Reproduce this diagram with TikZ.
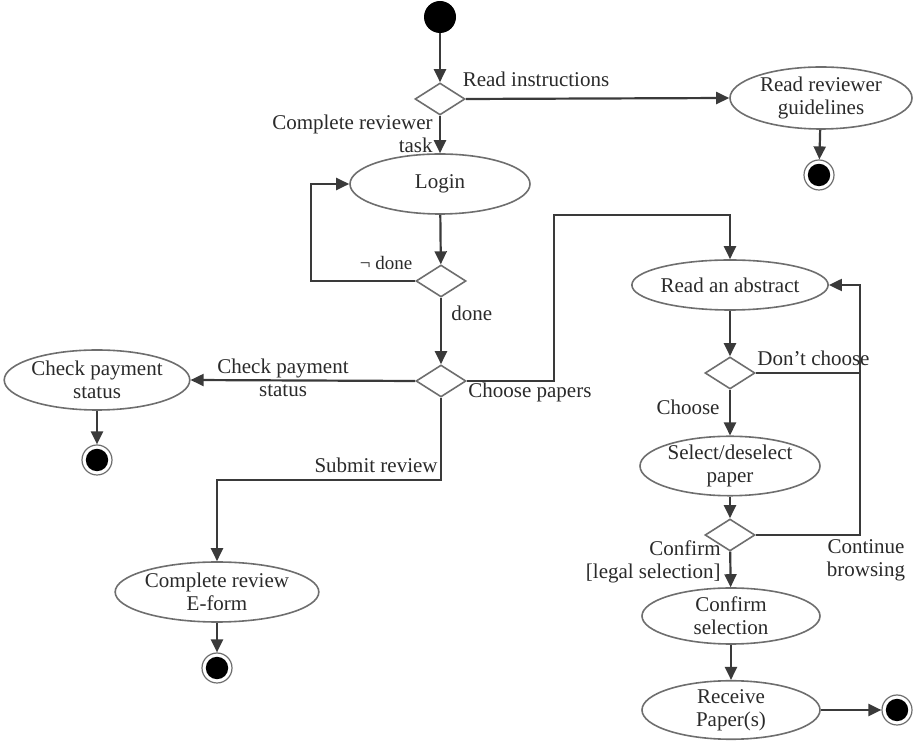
\documentclass[tikz,border=0pt]{standalone}
\usepackage{fontspec}
\setmainfont{Liberation Serif}
\usetikzlibrary{shapes.geometric,arrows.meta}
\definecolor{ln}{HTML}{3A3A3A}
\definecolor{ol}{HTML}{6E6E6E}
\definecolor{tx}{HTML}{2A2A2A}
\begin{document}
\begin{tikzpicture}[x=0.5pt,y=-0.5pt,
  font=\fontsize{10.5}{11.5}\selectfont,
  act/.style={ellipse,draw=ol,line width=0.8pt,inner sep=0pt,align=center,text=tx},
  dec/.style={diamond,draw=ol,line width=0.8pt,inner sep=0pt,minimum width=25pt,minimum height=16pt},
  flow/.style={draw=ln,line width=1.1pt,-{Triangle[length=6.5pt,width=6pt]}},
  plain/.style={draw=ln,line width=1.1pt},
  lbl/.style={inner sep=0pt,text=tx,align=center},
  startnode/.style={circle,fill=black,minimum size=16pt,inner sep=0pt},
  fin/.style={circle,draw=ol,line width=0.6pt,minimum size=15pt,inner sep=0pt,
    path picture={\fill[black] (path picture bounding box.center) circle (5.6pt);}}]
\useasboundingbox (0,0) rectangle (916,747);

% nodes
\node[startnode] (start) at (440,17) {};
\node[dec] (d1) at (440,99) {};
\node[act,minimum width=91pt,minimum height=31pt] (guide) at (821,98) {Read reviewer\\guidelines};
\node[fin] (fin1) at (819,175) {};
\node[act,minimum width=90pt,minimum height=30pt] (login) at (440,184) {Login};
\node[dec] (d2) at (441,281) {};
\node[dec] (d3) at (441,381) {};
\node[act,minimum width=90pt,minimum height=30pt] (pay) at (97,380) {Check payment\\status};
\node[fin] (fin2) at (97,460) {};
\node[act,minimum width=90pt,minimum height=30pt] (eform) at (217,592) {Complete review\\E-form};
\node[fin] (fin3) at (217,668) {};
\node[act,minimum width=91pt,minimum height=25pt] (abs) at (730,285) {Read an abstract};
\node[dec] (d4) at (730,373) {};
\node[act,minimum width=90pt,minimum height=29pt] (sel) at (730,466) {Select/deselect\\paper};
\node[dec] (d5) at (730,535) {};
\node[act,minimum width=89pt,minimum height=28pt] (conf) at (731,616) {Confirm\\selection};
\node[act,minimum width=89pt,minimum height=27pt] (recv) at (731,710) {Receive\\Paper(s)};
\node[fin] (fin4) at (897,710) {};

% bend points
\coordinate (lp) at (311,184);
\coordinate (c1) at (554,215);
\coordinate (c2) at (217,480);
\coordinate (c3) at (860,373);
\coordinate (c4) at (860,285);

% connectors
\draw[flow] (start) -- (d1);
\draw[flow] (d1.east) -- (guide.west);
\draw[flow] (guide) -- (fin1);
\draw[flow] (d1) -- (login);
\draw[flow] (login) -- (d2);
\draw[flow] (d2.west) -| (lp) -- (login.west);
\draw[flow] (d2) -- (d3);
\draw[flow] (d3.west) -- (pay.east);
\draw[flow] (pay) -- (fin2);
\draw[flow] (d3.east) -| (c1) -| (abs.north);
\draw[flow] (d3.south) |- (c2) -- (eform.north);
\draw[flow] (eform) -- (fin3);
\draw[flow] (abs) -- (d4);
\draw[plain] (d4.east) -- (c3);
\draw[flow] (d5.east) -| (c4) -- (abs.east);
\draw[flow] (d4) -- (sel);
\draw[flow] (sel) -- (d5);
\draw[flow] (d5) -- (conf);
\draw[flow] (conf) -- (recv);
\draw[flow] (recv) -- (fin4);

% labels
\node[lbl] (l1) at (536,79) {Read instructions};
\node[lbl,anchor=east,align=right] (l2) at (433,134) {Complete reviewer\\task};
\node[lbl,font=\fontsize{9.5}{11}\selectfont] (l3) at (386,263) {¬ done};
\node[lbl,anchor=west] (l4) at (451,313) {done};
\node[lbl] (l5) at (283,378) {Check payment\\status};
\node[lbl,anchor=west] (l6) at (468,392) {Choose papers};
\node[lbl,anchor=east] (l7) at (438,465) {Submit review};
\node[lbl,anchor=west] (l8) at (757,358) {Don’t choose};
\node[lbl] (l9) at (688,407) {Choose};
\node[lbl] (l10) at (866,560) {Continue\\browsing};
\node[lbl,anchor=east,align=right] (l11) at (721,562) {Confirm\\{}[legal selection]};
\end{tikzpicture}
\end{document}
